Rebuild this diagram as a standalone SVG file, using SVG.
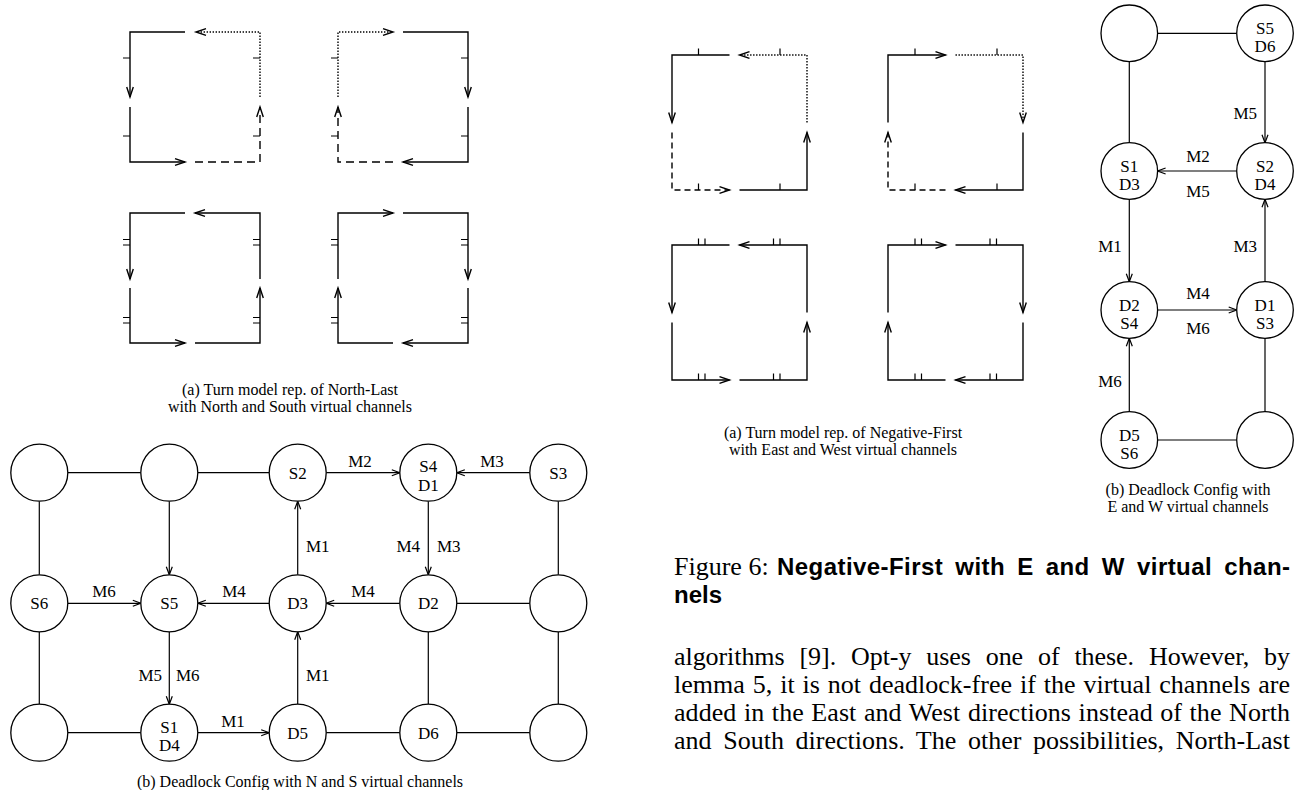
<svg xmlns="http://www.w3.org/2000/svg" width="1299" height="790" viewBox="0 0 1299 790">
<defs>
<marker id="ta" markerUnits="userSpaceOnUse" markerWidth="16" markerHeight="12" viewBox="-13 -6 16 12" refX="0" refY="0" orient="auto" overflow="visible"><path d="M-10,-3.3 L0,0 L-10,3.3" fill="none" stroke="#000" stroke-width="1.4"/></marker>
<marker id="ga" markerUnits="userSpaceOnUse" markerWidth="14" markerHeight="10" viewBox="-11 -5 14 10" refX="0" refY="0" orient="auto" overflow="visible"><path d="M-8,-3 L0,0 L-8,3" fill="none" stroke="#000" stroke-width="1.2"/></marker>
</defs>
<style>
.s{fill:none;stroke:#000;stroke-width:1.4}
.a{marker-end:url(#ta)}
.dash{stroke-dasharray:8 5}
.dash2{stroke-dasharray:6 4}
.dot{stroke-dasharray:1.4 1.6}
.tk{stroke:#000;stroke-width:1.2;fill:none}
.node circle{fill:#fff;stroke:#000;stroke-width:1.3}
.node text,.lbl{font-family:"Liberation Serif","Times New Roman",serif;font-size:17px;fill:#000}
.node text{text-anchor:middle}
.e{stroke:#000;stroke-width:1.2;fill:none}
.ea{marker-end:url(#ga)}
.cap{font-family:"Liberation Serif","Times New Roman",serif;font-size:16px;text-anchor:middle;fill:#000}
.body{font-family:"Liberation Serif","Times New Roman",serif;font-size:26px;fill:#000}
.bold{font-family:"Liberation Sans",Arial,sans-serif;font-weight:bold;font-size:24px;fill:#000}
</style>

<!-- North-Last turn model -->
<g id="nl-sq1">
<path class="s a" d="M185,32 L130,32 L130,97"/>
<path class="s a" d="M130,107 L130,162 L185,162"/>
<path class="s a dash" d="M195,162 L260,162 L260,107"/>
<path class="s a dot" d="M260,97 L260,32 L196,32"/>
<path class="tk" d="M123,58H130M123,136H130M253,58H260M253,136H260"/>
</g>
<g id="nl-sq2">
<path class="s a" d="M403,32 L468,32 L468,97"/>
<path class="s a" d="M468,107 L468,162 L403,162"/>
<path class="s a dash" d="M393,162 L338,162 L338,107"/>
<path class="s a dot" d="M338,97 L338,32 L393,32"/>
<path class="tk" d="M331,58H338M331,136H338M461,58H468M461,136H468"/>
</g>
<g id="nl-sq3">
<path class="s a" d="M185,213 L130,213 L130,279"/>
<path class="s a" d="M130,288 L130,343 L185,343"/>
<path class="s a" d="M195,343 L260,343 L260,288"/>
<path class="s a" d="M260,279 L260,213 L195,213"/>
<path class="tk" d="M123,239.5H130M123,245H130M123,317.5H130M123,323H130M253,239.5H260M253,245H260M253,317.5H260M253,323H260"/>
</g>
<g id="nl-sq4">
<path class="s a" d="M338,279 L338,213 L393,213"/>
<path class="s a" d="M403,213 L468,213 L468,279"/>
<path class="s a" d="M468,288 L468,343 L403,343"/>
<path class="s a" d="M393,343 L338,343 L338,288"/>
<path class="tk" d="M331,239.5H338M331,245H338M331,317.5H338M331,323H338M461,239.5H468M461,245H468M461,317.5H468M461,323H468"/>
</g>
<g id="nl-caption">
<text class="cap" x="290" y="395">(a) Turn model rep. of North-Last</text>
<text class="cap" x="290" y="412">with North and South virtual channels</text>
</g>

<!-- Negative-First turn model -->
<g id="nf-sq1">
<path class="s a" d="M729.5,55 L672,55 L672,122.5"/>
<path class="s a dash2" d="M672,132.5 L672,190 L729.5,190"/>
<path class="s a" d="M739.5,190 L807,190 L807,132.5"/>
<path class="s a dot" d="M807,122.5 L807,55 L739.5,55"/>
<path class="tk" d="M698.5,48.5V55M780,48.5V55M698.5,183.5V190M780,183.5V190"/>
</g>
<g id="nf-sq2">
<path class="s a dash2" d="M945.5,190 L888,190 L888,132.5"/>
<path class="s a" d="M888,122.5 L888,55 L945.5,55"/>
<path class="s a dot" d="M955.5,55 L1023,55 L1023,122.5"/>
<path class="s a" d="M1023,132.5 L1023,190 L955.5,190"/>
<path class="tk" d="M915,48.5V55M997,48.5V55M915,183.5V190M997,183.5V190"/>
</g>
<g id="nf-sq3">
<path class="s a" d="M729.5,245 L672,245 L672,312.5"/>
<path class="s a" d="M672,322.5 L672,380 L729.5,380"/>
<path class="s a" d="M739.5,380 L807,380 L807,322.5"/>
<path class="s a" d="M807,312.5 L807,245 L739.5,245"/>
<path class="tk" d="M698.5,238.5V245M705,238.5V245M773.5,238.5V245M780,238.5V245M698.5,373.5V380M705,373.5V380M773.5,373.5V380M780,373.5V380"/>
</g>
<g id="nf-sq4">
<path class="s a" d="M888,312.5 L888,245 L945.5,245"/>
<path class="s a" d="M955.5,245 L1023,245 L1023,312.5"/>
<path class="s a" d="M1023,322.5 L1023,380 L955.5,380"/>
<path class="s a" d="M945.5,380 L888,380 L888,322.5"/>
<path class="tk" d="M915,238.5V245M921.5,238.5V245M990,238.5V245M996.5,238.5V245M915,373.5V380M921.5,373.5V380M990,373.5V380M996.5,373.5V380"/>
</g>
<g id="nf-caption">
<text class="cap" x="843" y="438">(a) Turn model rep. of Negative-First</text>
<text class="cap" x="843" y="455">with East and West virtual channels</text>
</g>

<!-- Right deadlock graph (E and W) -->
<g id="ew-connectors">
<path class="e" d="M1157.6,33.3H1236.7"/>
<path class="e" d="M1129.3,61.6V142.7"/>
<path class="e ea" d="M1265,61.6V142.7"/>
<path class="e ea" d="M1236.7,171H1157.6"/>
<path class="e ea" d="M1129.3,199.3V281.7"/>
<path class="e ea" d="M1265,281.7V199.3"/>
<path class="e ea" d="M1157.6,310H1236.7"/>
<path class="e ea" d="M1129.3,411.7V338.3"/>
<path class="e" d="M1265,338.3V411.7"/>
<path class="e" d="M1157.6,440H1236.7"/>
<text class="lbl" x="1257" y="119" text-anchor="end">M5</text>
<text class="lbl" x="1198" y="162" text-anchor="middle">M2</text>
<text class="lbl" x="1198" y="197" text-anchor="middle">M5</text>
<text class="lbl" x="1110" y="252" text-anchor="middle">M1</text>
<text class="lbl" x="1257" y="252" text-anchor="end">M3</text>
<text class="lbl" x="1198" y="299" text-anchor="middle">M4</text>
<text class="lbl" x="1198" y="334" text-anchor="middle">M6</text>
<text class="lbl" x="1110" y="387" text-anchor="middle">M6</text>
</g>
<g id="ew-n1" class="node"><circle cx="1129.3" cy="33.3" r="28.3"/></g>
<g id="ew-n2" class="node"><circle cx="1265" cy="33.3" r="28.3"/><text x="1265" y="34">S5</text><text x="1265" y="52">D6</text></g>
<g id="ew-n3" class="node"><circle cx="1129.3" cy="171" r="28.3"/><text x="1129.3" y="172">S1</text><text x="1129.3" y="190">D3</text></g>
<g id="ew-n4" class="node"><circle cx="1265" cy="171" r="28.3"/><text x="1265" y="172">S2</text><text x="1265" y="190">D4</text></g>
<g id="ew-n5" class="node"><circle cx="1129.3" cy="310" r="28.3"/><text x="1129.3" y="311">D2</text><text x="1129.3" y="329">S4</text></g>
<g id="ew-n6" class="node"><circle cx="1265" cy="310" r="28.3"/><text x="1265" y="311">D1</text><text x="1265" y="329">S3</text></g>
<g id="ew-n7" class="node"><circle cx="1129.3" cy="440" r="28.3"/><text x="1129.3" y="441">D5</text><text x="1129.3" y="459">S6</text></g>
<g id="ew-n8" class="node"><circle cx="1265" cy="440" r="28.3"/></g>
<g id="ew-caption">
<text class="cap" x="1188" y="495">(b) Deadlock Config with</text>
<text class="cap" x="1188" y="512">E and W virtual channels</text>
</g>

<!-- Bottom-left deadlock graph (N and S) -->
<g id="ns-connectors">
<path class="e" d="M67.8,472.7H140.8"/>
<path class="e" d="M197.8,472.7H269.2"/>
<path class="e ea" d="M326.2,472.7H399.8"/>
<path class="e ea" d="M529.8,472.7H456.8"/>
<path class="e ea" d="M67.8,603.3H140.8"/>
<path class="e ea" d="M269.2,603.3H197.8"/>
<path class="e ea" d="M399.8,603.3H326.2"/>
<path class="e" d="M456.8,603.3H529.8"/>
<path class="e" d="M67.8,732.7H140.8"/>
<path class="e ea" d="M197.8,732.7H269.2"/>
<path class="e" d="M326.2,732.7H399.8"/>
<path class="e" d="M456.8,732.7H529.8"/>
<path class="e" d="M39.3,501.2V574.8"/>
<path class="e ea" d="M169.3,501.2V574.8"/>
<path class="e ea" d="M297.7,574.8V501.2"/>
<path class="e ea" d="M428.3,501.2V574.8"/>
<path class="e" d="M558.3,501.2V574.8"/>
<path class="e" d="M39.3,631.8V704.2"/>
<path class="e ea" d="M169.3,631.8V704.2"/>
<path class="e ea" d="M297.7,704.2V631.8"/>
<path class="e" d="M428.3,631.8V704.2"/>
<path class="e" d="M558.3,631.8V704.2"/>
<text class="lbl" x="360" y="467" text-anchor="middle">M2</text>
<text class="lbl" x="492" y="467" text-anchor="middle">M3</text>
<text class="lbl" x="306" y="552">M1</text>
<text class="lbl" x="420" y="552" text-anchor="end">M4</text>
<text class="lbl" x="437" y="552">M3</text>
<text class="lbl" x="104" y="597" text-anchor="middle">M6</text>
<text class="lbl" x="234" y="597" text-anchor="middle">M4</text>
<text class="lbl" x="363" y="597" text-anchor="middle">M4</text>
<text class="lbl" x="162" y="681" text-anchor="end">M5</text>
<text class="lbl" x="176" y="681">M6</text>
<text class="lbl" x="306" y="681">M1</text>
<text class="lbl" x="233" y="727" text-anchor="middle">M1</text>
</g>
<g id="ns-r1c1" class="node"><circle cx="39.3" cy="472.7" r="28.5"/></g>
<g id="ns-r1c2" class="node"><circle cx="169.3" cy="472.7" r="28.5"/></g>
<g id="ns-r1c3" class="node"><circle cx="297.7" cy="472.7" r="28.5"/><text x="297.7" y="479">S2</text></g>
<g id="ns-r1c4" class="node"><circle cx="428.3" cy="472.7" r="28.5"/><text x="428.3" y="472">S4</text><text x="428.3" y="491">D1</text></g>
<g id="ns-r1c5" class="node"><circle cx="558.3" cy="472.7" r="28.5"/><text x="558.3" y="479">S3</text></g>
<g id="ns-r2c1" class="node"><circle cx="39.3" cy="603.3" r="28.5"/><text x="39.3" y="609">S6</text></g>
<g id="ns-r2c2" class="node"><circle cx="169.3" cy="603.3" r="28.5"/><text x="169.3" y="609">S5</text></g>
<g id="ns-r2c3" class="node"><circle cx="297.7" cy="603.3" r="28.5"/><text x="297.7" y="609">D3</text></g>
<g id="ns-r2c4" class="node"><circle cx="428.3" cy="603.3" r="28.5"/><text x="428.3" y="609">D2</text></g>
<g id="ns-r2c5" class="node"><circle cx="558.3" cy="603.3" r="28.5"/></g>
<g id="ns-r3c1" class="node"><circle cx="39.3" cy="732.7" r="28.5"/></g>
<g id="ns-r3c2" class="node"><circle cx="169.3" cy="732.7" r="28.5"/><text x="169.3" y="733">S1</text><text x="169.3" y="751">D4</text></g>
<g id="ns-r3c3" class="node"><circle cx="297.7" cy="732.7" r="28.5"/><text x="297.7" y="739">D5</text></g>
<g id="ns-r3c4" class="node"><circle cx="428.3" cy="732.7" r="28.5"/><text x="428.3" y="739">D6</text></g>
<g id="ns-r3c5" class="node"><circle cx="558.3" cy="732.7" r="28.5"/></g>
<g id="ns-caption">
<text class="cap" x="300" y="787">(b) Deadlock Config with N and S virtual channels</text>
</g>

<!-- Figure caption and body text -->
<g id="figure-caption">
<text class="body" x="674" y="575">Figure 6:</text>
<text class="bold" x="777" y="575" word-spacing="5" textLength="513" lengthAdjust="spacing">Negative-First with E and W virtual chan-</text>
<text class="bold" x="674" y="603">nels</text>
</g>
<g id="body-text">
<text class="body" x="674" y="665" word-spacing="8.5" textLength="616" lengthAdjust="spacing">algorithms [9]. Opt-y uses one of these. However, by</text>
<text class="body" x="674" y="693" word-spacing="1.4" textLength="616" lengthAdjust="spacing">lemma 5, it is not deadlock-free if the virtual channels are</text>
<text class="body" x="674" y="721" word-spacing="1" textLength="616" lengthAdjust="spacing">added in the East and West directions instead of the North</text>
<text class="body" x="674" y="749" word-spacing="5" textLength="616" lengthAdjust="spacing">and South directions. The other possibilities, North-Last</text>
</g>
</svg>
